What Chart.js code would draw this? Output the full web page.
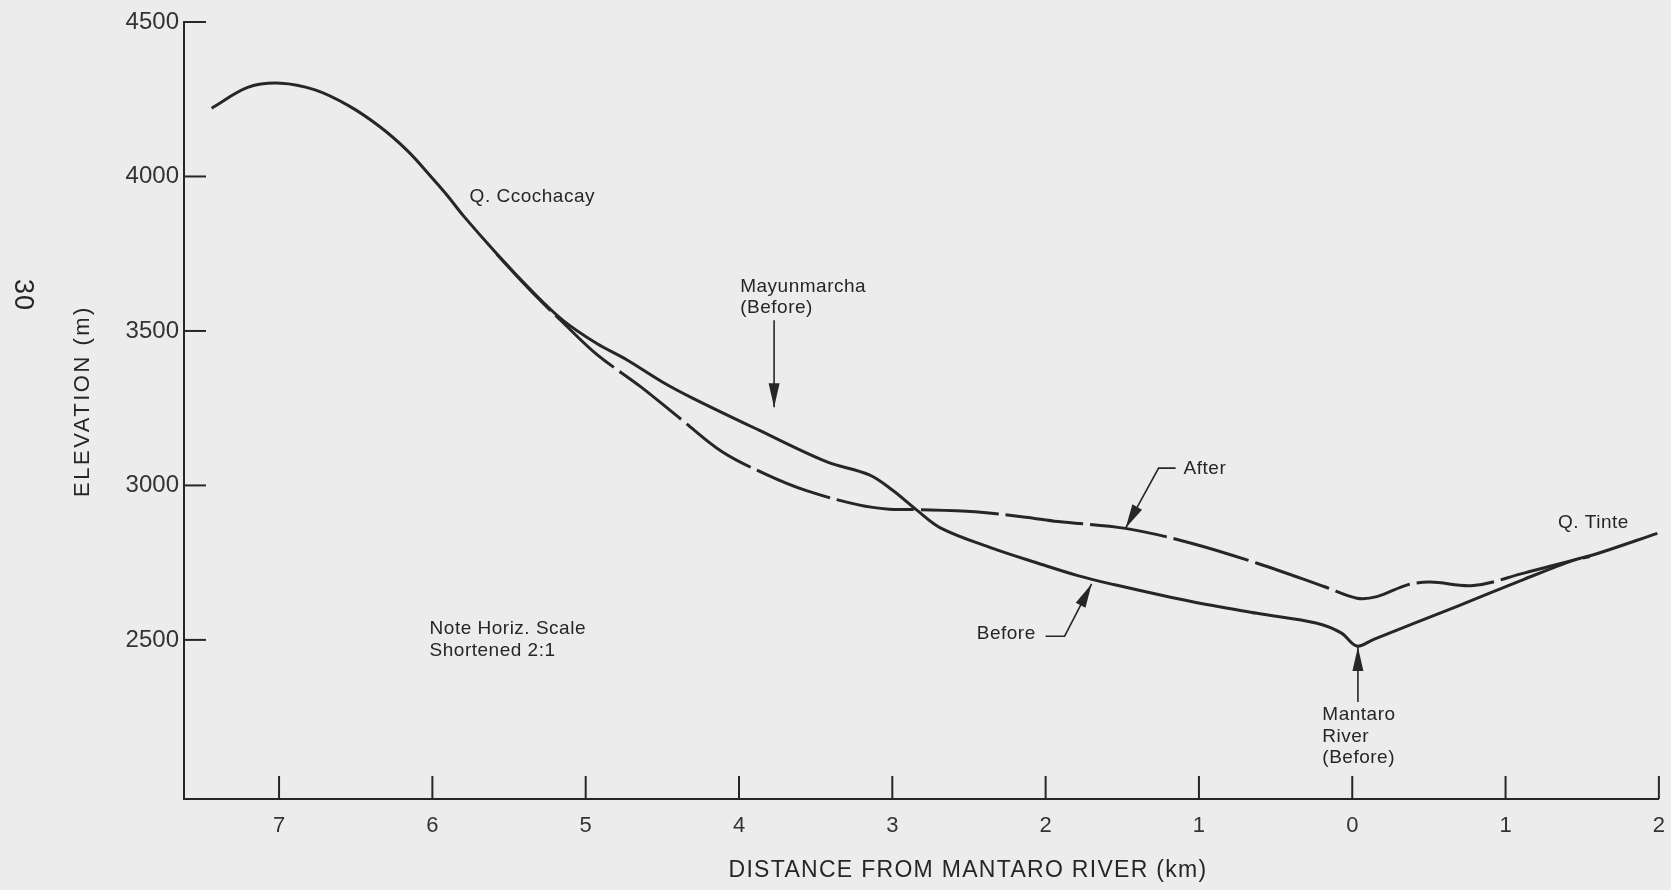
<!DOCTYPE html>
<html>
<head>
<meta charset="utf-8">
<title>Elevation profile, Mantaro River</title>
<script src="https://cdn.jsdelivr.net/npm/chart.js@4.4.1/dist/chart.umd.min.js"></script>
<style>
html, body { margin: 0; padding: 0; background: #ececec; }
#wrap { width: 1671px; height: 890px; }
</style>
</head>
<body>
<div id="wrap"><canvas id="profile" width="1671" height="890"></canvas></div>
<script>

// distance along the profile in km: negative = upstream side (left), positive = across the river
var xTickValues = [-7, -6, -5, -4, -3, -2, -1, 0, 1, 2];
var yTickValues = [2500, 3000, 3500, 4000, 4500];

var beforeDist = [-7.44, -7.20, -6.99, -6.77, -6.55, -6.34, -6.16, -6.01, -5.90, -5.80,
                  -5.58, -5.36, -5.15, -4.93, -4.73, -4.50, -4.30, -3.87, -3.43, -3.15,
                  -3.00, -2.84, -2.68, -2.35, -2.03, -1.79, -1.59, -1.05, -0.62, -0.23,
                  -0.07, 0.03, 0.14, 0.68, 1.12, 1.45, 1.59, 1.99];
var beforeElev = [4221, 4289, 4302, 4281, 4230, 4160, 4082, 4000, 3937, 3874,
                  3750, 3634, 3535, 3460, 3406, 3335, 3282, 3179, 3077, 3034,
                  2985, 2920, 2861, 2797, 2745, 2708, 2683, 2624, 2586, 2554,
                  2522, 2480, 2502, 2608, 2696, 2759, 2778, 2845];

var afterDist = [-5.58, -5.36, -5.15, -4.93, -4.64, -4.37, -4.11, -3.82, -3.56, -3.22,
                 -3.02, -2.84, -2.46, -2.13, -1.92, -1.48, -1.05, -0.62, -0.18, 0.03,
                 0.16, 0.36, 0.51, 0.79, 1.12, 1.45, 1.55];
var afterElev = [3748, 3631, 3528, 3425, 3319, 3211, 3109, 3035, 2983, 2937,
                 2923, 2922, 2915, 2897, 2883, 2861, 2813, 2748, 2672, 2635,
                 2640, 2678, 2687, 2676, 2716, 2759, 2770];

var INK  = "#262626";
var FONT = "'Liberation Sans', Arial, sans-serif";

function points(xs, ys) {
        return xs.map(function(x, i) { return {x: x, y: ys[i]}; });
}

function arrowHead(ctx, fx, fy, tx, ty) {
        var a = Math.atan2(ty - fy, tx - fx);
        var len = 24, half = 5.5;
        ctx.beginPath();
        ctx.moveTo(tx, ty);
        ctx.lineTo(tx - len*Math.cos(a) + half*Math.sin(a), ty - len*Math.sin(a) - half*Math.cos(a));
        ctx.lineTo(tx - len*Math.cos(a) - half*Math.sin(a), ty - len*Math.sin(a) + half*Math.cos(a));
        ctx.closePath();
        ctx.fill();
}

// polyline given in data units, arrow head on the last point
function leader(ctx, X, Y, pts) {
        ctx.beginPath();
        ctx.moveTo(X(pts[0][0]), Y(pts[0][1]));
        for (var i = 1; i < pts.length; i++) {
                ctx.lineTo(X(pts[i][0]), Y(pts[i][1]));
        }
        ctx.stroke();
        var n = pts.length;
        arrowHead(ctx, X(pts[n-2][0]), Y(pts[n-2][1]), X(pts[n-1][0]), Y(pts[n-1][1]));
}

function label(ctx, X, Y, lines, x, y, gap) {
        for (var i = 0; i < lines.length; i++) {
                ctx.fillText(lines[i], X(x), Y(y) + i*gap);
        }
}

var overlay = {
        id: "overlay",
        afterDraw: function(chart) {
                var ctx  = chart.ctx;
                var xs   = chart.scales.x;
                var ys   = chart.scales.y;
                var area = chart.chartArea;
                var X = function(v) { return xs.getPixelForValue(v); };
                var Y = function(v) { return ys.getPixelForValue(v); };

                ctx.save();
                ctx.strokeStyle = INK;
                ctx.fillStyle   = INK;
                ctx.lineWidth   = 2;

                // tick marks point into the plot
                xTickValues.forEach(function(v) {
                        ctx.beginPath();
                        ctx.moveTo(X(v), area.bottom);
                        ctx.lineTo(X(v), area.bottom - 23);
                        ctx.stroke();
                });
                yTickValues.forEach(function(v) {
                        ctx.beginPath();
                        ctx.moveTo(area.left, Y(v));
                        ctx.lineTo(area.left + 22, Y(v));
                        ctx.stroke();
                });

                // arrows
                ctx.lineWidth = 1.6;
                leader(ctx, X, Y, [[-3.771, 3535], [-3.771, 3253]]);
                leader(ctx, X, Y, [[-1.152, 3056], [-1.263, 3056], [-1.478, 2862]]);
                leader(ctx, X, Y, [[-2.000, 2512], [-1.876, 2512], [-1.700, 2681]]);
                leader(ctx, X, Y, [[0.037, 2299], [0.037, 2477]]);

                // annotations
                ctx.font = "19px " + FONT;
                ctx.letterSpacing = "0.5px";
                ctx.textAlign = "left";
                ctx.textBaseline = "middle";
                label(ctx, X, Y, ["Q. Ccochacay"], -5.757, 3933, 0);
                label(ctx, X, Y, ["Mayunmarcha", "(Before)"], -3.992, 3642, 21);
                label(ctx, X, Y, ["After"], -1.100, 3053, 0);
                label(ctx, X, Y, ["Before"], -2.449, 2519, 0);
                label(ctx, X, Y, ["Mantaro", "River", "(Before)"], -0.195, 2257, 21.5);
                label(ctx, X, Y, ["Q. Tinte"], 1.342, 2878, 0);
                label(ctx, X, Y, ["Note Horiz. Scale", "Shortened 2:1"], -6.018, 2535, 21.5);

                // axis titles
                ctx.font = "23px " + FONT;
                ctx.textAlign = "center";
                ctx.letterSpacing = "1.3px";
                ctx.fillText("DISTANCE FROM MANTARO RIVER (km)", 968, 871);

                ctx.save();
                ctx.translate(83, 401);
                ctx.rotate(-Math.PI/2);
                ctx.font = "22px " + FONT;
                ctx.letterSpacing = "2.5px";
                ctx.fillText("ELEVATION (m)", 0, 0);
                ctx.restore();

                // page number
                ctx.save();
                ctx.translate(22, 295);
                ctx.rotate(Math.PI/2);
                ctx.letterSpacing = "1px";
                ctx.font = "27px " + FONT;
                ctx.fillText("30", 0, 0);
                ctx.restore();

                ctx.restore();
        }
};

var ProfileChart = new Chart(document.getElementById("profile"), {
        type: "line",
        data: {
                datasets: [{
                        label: "Before",
                        data: points(beforeDist, beforeElev),
                        borderColor: INK,
                        borderWidth: 3,
                        pointRadius: 0,
                        tension: 0.35,
                        fill: false
                }, {
                        label: "After",
                        data: points(afterDist, afterElev),
                        borderColor: INK,
                        borderWidth: 3,
                        borderDash: [78, 7],
                        pointRadius: 0,
                        tension: 0.35,
                        fill: false
                }]
        },
        options: {
                responsive: false,
                animation: false,
                events: [],
                layout: { padding: { left: 0, right: 10, top: 22, bottom: 0 } },
                plugins: {
                        legend: { display: false },
                        tooltip: { enabled: false }
                },
                scales: {
                        x: {
                                type: "linear",
                                min: -7.62,
                                max: 2,
                                grid: { display: false },
                                border: { display: true, color: INK, width: 2 },
                                afterBuildTicks: function(scale) {
                                        scale.ticks = xTickValues.map(function(v) { return {value: v}; });
                                },
                                afterFit: function(scale) { scale.height = 91; },
                                ticks: {
                                        padding: 6,
                                        color: "#333",
                                        font: { family: FONT, size: 22 },
                                        maxRotation: 0,
                                        callback: function(v) { return String(Math.abs(v)); }
                                }
                        },
                        y: {
                                min: 1985,
                                max: 4500,
                                grid: { display: false, drawTicks: false },
                                border: { display: true, color: INK, width: 2 },
                                afterBuildTicks: function(scale) {
                                        scale.ticks = yTickValues.map(function(v) { return {value: v}; });
                                },
                                afterFit: function(scale) { scale.width = 184; },
                                ticks: {
                                        padding: 5,
                                        color: "#333",
                                        font: { family: FONT, size: 24 },
                                        callback: function(v) { return String(v); }
                                }
                        }
                }
        },
        plugins: [overlay]
});
</script>
</body>
</html>
